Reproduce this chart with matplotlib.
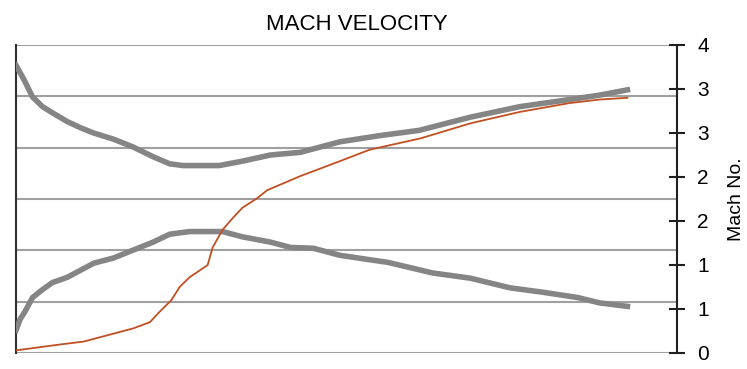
import matplotlib
matplotlib.use("Agg")
import matplotlib.pyplot as plt

plt.rcParams['font.family'] = ['Liberation Sans', 'DejaVu Sans']

# upper grey curve
upper_x = [0, 0.5, 1.0, 1.6, 2.2, 3.1, 3.9, 4.7, 5.9, 7.1, 8.3, 9.3, 10.1, 12.3, 13.7, 15.4, 17.2,
           19.6, 22.0, 24.4, 27.5, 30.5, 33.5, 35.3, 37.0]
upper_y = [3.27, 3.10, 2.91, 2.80, 2.73, 2.63, 2.56, 2.50, 2.43, 2.34, 2.23, 2.15, 2.13, 2.13, 2.18, 2.25, 2.28,
           2.40, 2.47, 2.53, 2.68, 2.80, 2.88, 2.93, 2.99]

# lower grey curve
lower_x = [0, 0.24, 0.54, 1.0, 1.6, 2.2, 3.1, 3.9, 4.7, 5.9, 7.1, 8.3, 9.3, 10.5, 12.5, 13.7, 15.4, 16.6,
           18.0, 19.6, 21.4, 22.5, 25.2, 27.5, 29.9, 31.9, 34.0, 35.3, 37.0]
lower_y = [0.26, 0.38, 0.47, 0.63, 0.72, 0.80, 0.86, 0.94, 1.02, 1.08, 1.17, 1.26, 1.35, 1.38, 1.38, 1.32, 1.26, 1.20,
           1.19, 1.11, 1.06, 1.03, 0.91, 0.85, 0.74, 0.69, 0.63, 0.57, 0.53]

# orange curve
orange_x = [0, 1.6, 2.8, 4.1, 5.1, 6.3, 7.1, 8.1, 8.7, 9.4, 9.9, 10.5, 11.6, 11.9, 12.5, 13.1,
            13.7, 14.6, 15.2, 16.2, 17.2, 19.6, 21.4, 24.5, 27.5, 30.5, 33.5, 35.3, 37.0]
orange_y = [0.03, 0.07, 0.10, 0.13, 0.18, 0.24, 0.28, 0.35, 0.47, 0.60, 0.75, 0.86, 1.00, 1.20, 1.40, 1.53,
            1.65, 1.76, 1.85, 1.93, 2.01, 2.18, 2.31, 2.44, 2.61, 2.74, 2.84, 2.88, 2.90]

mach_ticks = [0, 0.5, 1.0, 1.5, 2.0, 2.5, 3.0, 3.5]
mach_labels = ["0", "1", "1", "2", "2", "3", "3", "4"]

fig = plt.figure(figsize=(7.47, 3.69), dpi=100)
ax = fig.add_axes([16/747, 16/369, (677-16)/747, (353-45)/369])

# primary axis only carries the grid
ax.set_xlim(0, 40)
ax.set_ylim(0, 6)
ax.set_yticks(range(7))
ax.set_xticks([])
ax.tick_params(axis='y', length=0, labelleft=False)
ax.grid(axis='y', color='#a0a0a0', linewidth=1.5)
ax.spines['top'].set_visible(False)
ax.spines['right'].set_visible(False)
ax.spines['bottom'].set_visible(False)
ax.spines['left'].set_color('#303030')
ax.spines['left'].set_linewidth(1.5)

ax2 = ax.twinx()
ax2.set_xlim(0, 40)
ax2.set_ylim(0, 3.5)
ax2.plot(upper_x, upper_y, color='#858585', linewidth=4)
ax2.plot(lower_x, lower_y, color='#858585', linewidth=4)
ax2.plot(orange_x, orange_y, color='#c05020', linewidth=1.3)

ax2.set_yticks(mach_ticks)
ax2.set_yticklabels(mach_labels)
ax2.tick_params(axis='y', direction='inout', length=11, width=1.5, color='#202020',
                labelsize=15, pad=9)
for s in ['top', 'left', 'bottom']:
    ax2.spines[s].set_visible(False)
ax2.spines['right'].set_color('#202020')
ax2.spines['right'].set_linewidth(1.5)
ax2.set_ylabel("Mach No.", fontsize=14, labelpad=14)

fig.text(357/747, 1 - 24/369, "MACH VELOCITY", ha='center', va='center', fontsize=16)

fig.savefig("out.png", dpi=100)
